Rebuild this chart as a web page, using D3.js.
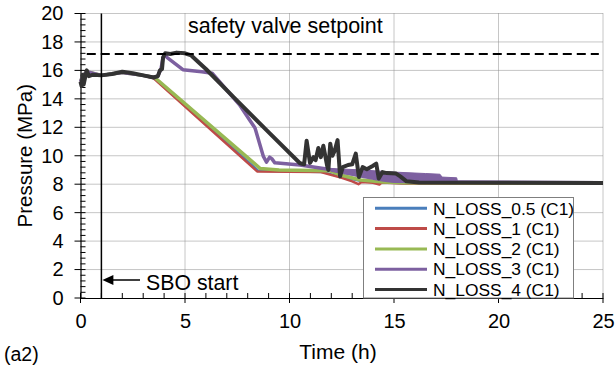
<!DOCTYPE html>
<html>
<head>
<meta charset="utf-8">
<script src="https://cdn.jsdelivr.net/npm/d3@7/dist/d3.min.js"></script>
<style>
  html, body { margin: 0; padding: 0; background: #fff; }
  svg { display: block; font-family: "Liberation Sans", Arial, sans-serif; }
</style>
</head>
<body>
<svg id="chart" width="616" height="367"></svg>
<script>
// Pressure histories [time (h), pressure (MPa)] for each nitrogen-loss case
const nLoss05 = [[0,15.2],[0.1,15.6],[0.3,15.9],[1,15.65],[2,15.85],[3,15.65],[3.5,15.5],[8.5,8.95],[11.6,8.85],[12.5,8.5],[13.5,8.2],[15.5,8.07],[25,8.05]];
const nLoss1 = [[0,15.2],[0.1,15.6],[0.3,15.9],[1,15.65],[2,15.85],[3,15.65],[3.5,15.45],[8.45,8.9],[11.5,8.85],[12.5,8.45],[13.0,8.2],[13.3,8.0],[13.45,8.15],[14.0,8.1],[14.3,7.98],[14.4,8.12],[15.5,8.05],[25,8.03]];
const nLoss2 = [[0,15.2],[0.1,15.6],[0.3,15.9],[1,15.65],[2,15.85],[3,15.65],[3.55,15.5],[8.6,9.1],[9.5,9.0],[11.9,8.95],[12.45,8.65],[13.4,8.3],[14.5,8.15],[15.5,8.1],[25,8.07]];
const nLoss3 = [[0,15.2],[0.1,15.6],[0.3,15.9],[1,15.65],[2,15.85],[3,15.65],[3.5,15.5],[3.7,15.6],[3.85,16.1],[3.95,16.9],[4.05,17.1],[4.15,16.9],[4.9,16.05],[5.8,15.9],[6.3,15.8],[7.6,13.6],[8.1,12.5],[8.35,11.95],[8.75,9.95],[8.9,9.55],[9.05,9.9],[9.15,9.8],[9.3,9.5],[10.5,9.35],[12.1,9.0],[13.5,8.55],[14.5,8.3],[15,8.2],[18.1,8.15],[25,8.1]];
// fluctuation band of N_LOSS_3 late in the transient: [time, low, high]
const nLoss3Band = [[12.0,8.9,9.1],[13.5,8.5,9.0],[14.5,8.3,8.9],[15.0,8.2,8.85],[16.5,8.15,8.75],[17.2,8.15,8.7],[17.3,8.15,8.5],[18.0,8.15,8.45],[18.05,8.1,8.1]];
const nLoss4 = [[0,15.2],[0.05,14.9],[0.1,15.7],[0.15,15.0],[0.22,15.5],[0.3,16.0],[0.4,15.6],[0.6,15.7],[1.0,15.65],[1.5,15.75],[2.0,15.9],[2.5,15.8],[3.0,15.65],[3.5,15.5],[3.7,15.6],[3.8,16.0],[3.9,16.1],[3.95,16.9],[4.05,17.2],[4.3,17.15],[4.6,17.25],[5.0,17.2],[5.3,17.05],[5.7,16.5],[6.0,16.1],[7.3,14.15],[8.9,11.8],[10.5,9.47],[10.7,9.4],[10.82,11.05],[10.98,9.5],[11.15,9.9],[11.25,9.7],[11.38,10.55],[11.5,9.9],[11.62,10.7],[11.8,9.3],[11.86,9.0],[11.95,10.85],[12.05,10.0],[12.15,10.3],[12.3,11.1],[12.42,8.55],[12.55,9.2],[12.8,9.35],[13.0,9.4],[13.17,10.15],[13.32,8.5],[13.5,9.2],[13.7,9.05],[14.0,9.3],[14.15,9.45],[14.27,8.4],[14.45,8.85],[14.65,8.78],[15.1,8.75],[15.3,8.55],[15.6,8.2],[16.2,8.12],[20,8.1],[25,8.08]];

const seriesNames = ["N_LOSS_0.5 (C1)","N_LOSS_1 (C1)","N_LOSS_2 (C1)","N_LOSS_3 (C1)","N_LOSS_4 (C1)"];
const seriesData = [nLoss05, nLoss1, nLoss2, nLoss3, nLoss4];
const seriesColors = ["#4a7ebb","#be4b48","#98b954","#7d60a0","#333333"];
const seriesWidths = [2.5, 2.5, 3.5, 3.5, 4];

const xTicks = [0,5,10,15,20,25];
const yTicks = [0,2,4,6,8,10,12,14,16,18,20];
const setpoint = 17.15;      // safety valve setpoint (MPa)
const setpointSpan = [0.3, 24.8];
const sboTime = 1;            // SBO start (h)

const svg = d3.select("#chart");
const m = {left: 80.5, right: 603, top: 13.5, bottom: 298};
const x = d3.scaleLinear().domain([0,25]).range([m.left, m.right]);
const y = d3.scaleLinear().domain([0,20]).range([m.bottom, m.top]);

// dotted grid
const grid = svg.append("g").attr("stroke", "#8c8c8c").attr("stroke-width", 1).attr("stroke-dasharray", "1,1");
yTicks.filter(v => v > 0).forEach(v => {
  grid.append("line").attr("x1", m.left).attr("x2", m.right).attr("y1", y(v)).attr("y2", y(v));
});
xTicks.filter(v => v > 0).forEach(v => {
  grid.append("line").attr("x1", x(v)).attr("x2", x(v)).attr("y1", m.top).attr("y2", m.bottom);
});

// axes
const xAxis = d3.axisBottom(x).tickValues(xTicks).tickSize(0).tickPadding(16);
const gx = svg.append("g").attr("transform", `translate(0,${m.bottom})`).call(xAxis);
const yAxis = d3.axisLeft(y).tickValues(yTicks).tickSize(0).tickPadding(17);
const gy = svg.append("g").attr("transform", `translate(${m.left},0)`).call(yAxis);
[gx, gy].forEach(g => {
  g.select(".domain").attr("stroke", "#000").attr("stroke-width", 1.2);
  g.selectAll("text").attr("font-size", 20).attr("fill", "#000").attr("font-family", "Liberation Sans, Arial, sans-serif");
});

// major ticks cross the axis, minor ticks point inward
const tk = svg.append("g").attr("stroke", "#000").attr("stroke-width", 1);
d3.range(0, 25.01, 1).forEach(v => {
  const major = Math.abs(v % 5) < 1e-6;
  tk.append("line").attr("x1", x(v)).attr("x2", x(v))
    .attr("y1", m.bottom - 5).attr("y2", major ? m.bottom + 5 : m.bottom);
});
d3.range(0, 20.01, 0.4).forEach(v => {
  const major = Math.abs(v / 2 - Math.round(v / 2)) < 1e-6;
  tk.append("line").attr("y1", y(v)).attr("y2", y(v))
    .attr("x1", major ? m.left - 6 : m.left).attr("x2", m.left + 5);
});

// series
const line = d3.line().x(d => x(d[0])).y(d => y(d[1]));
const area = d3.area().x(d => x(d[0])).y0(d => y(d[1])).y1(d => y(d[2]));
seriesData.forEach((data, i) => {
  if (i === 3) {
    svg.append("path").datum(nLoss3Band).attr("d", area).attr("fill", seriesColors[3]).attr("stroke", seriesColors[3]).attr("stroke-width", 1);
  }
  svg.append("path").datum(data).attr("d", line)
    .attr("fill", "none").attr("stroke", seriesColors[i]).attr("stroke-width", seriesWidths[i])
    .attr("stroke-linejoin", "round");
});

// safety valve setpoint
svg.append("line").attr("x1", x(setpointSpan[0])).attr("x2", x(setpointSpan[1]))
  .attr("y1", y(setpoint)).attr("y2", y(setpoint))
  .attr("stroke", "#000").attr("stroke-width", 2).attr("stroke-dasharray", "9,5");
svg.append("text").attr("x", 188).attr("y", 33).attr("font-size", 21.5).text("safety valve setpoint");

// SBO start marker
svg.append("line").attr("x1", x(sboTime)).attr("x2", x(sboTime)).attr("y1", m.top).attr("y2", m.bottom)
  .attr("stroke", "#000").attr("stroke-width", 1.5);
const ay = 280;
svg.append("line").attr("x1", x(sboTime) + 10).attr("x2", 140).attr("y1", ay).attr("y2", ay)
  .attr("stroke", "#000").attr("stroke-width", 1.5);
svg.append("path").attr("d", `M${x(sboTime) + 1},${ay} L${x(sboTime) + 12},${ay - 5} L${x(sboTime) + 12},${ay + 5} Z`).attr("fill", "#000");
svg.append("text").attr("x", 146).attr("y", 290).attr("font-size", 21.3).text("SBO start");

// legend
const lg = svg.append("g");
lg.append("rect").attr("x", 363.5).attr("y", 197.5).attr("width", 210).attr("height", 100.5)
  .attr("fill", "#fff").attr("stroke", "#7f7f7f").attr("stroke-width", 1);
seriesNames.forEach((name, i) => {
  const ry = 208.3 + i * 20.3;
  lg.append("line").attr("x1", 375).attr("x2", 427).attr("y1", ry).attr("y2", ry)
    .attr("stroke", seriesColors[i]).attr("stroke-width", 3);
  lg.append("text").attr("x", 433).attr("y", ry + 6.2).attr("font-size", 17.4).text(name);
});

// axis titles and panel label
svg.append("text").attr("transform", `translate(32,${(m.top + m.bottom) / 2}) rotate(-90)`)
  .attr("text-anchor", "middle").attr("font-size", 20.5).text("Pressure (MPa)");
svg.append("text").attr("x", 338).attr("y", 359).attr("text-anchor", "middle")
  .attr("font-size", 21).text("Time (h)");
svg.append("text").attr("x", 4).attr("y", 361).attr("font-size", 19.5).text("(a2)");
</script>
</body>
</html>
